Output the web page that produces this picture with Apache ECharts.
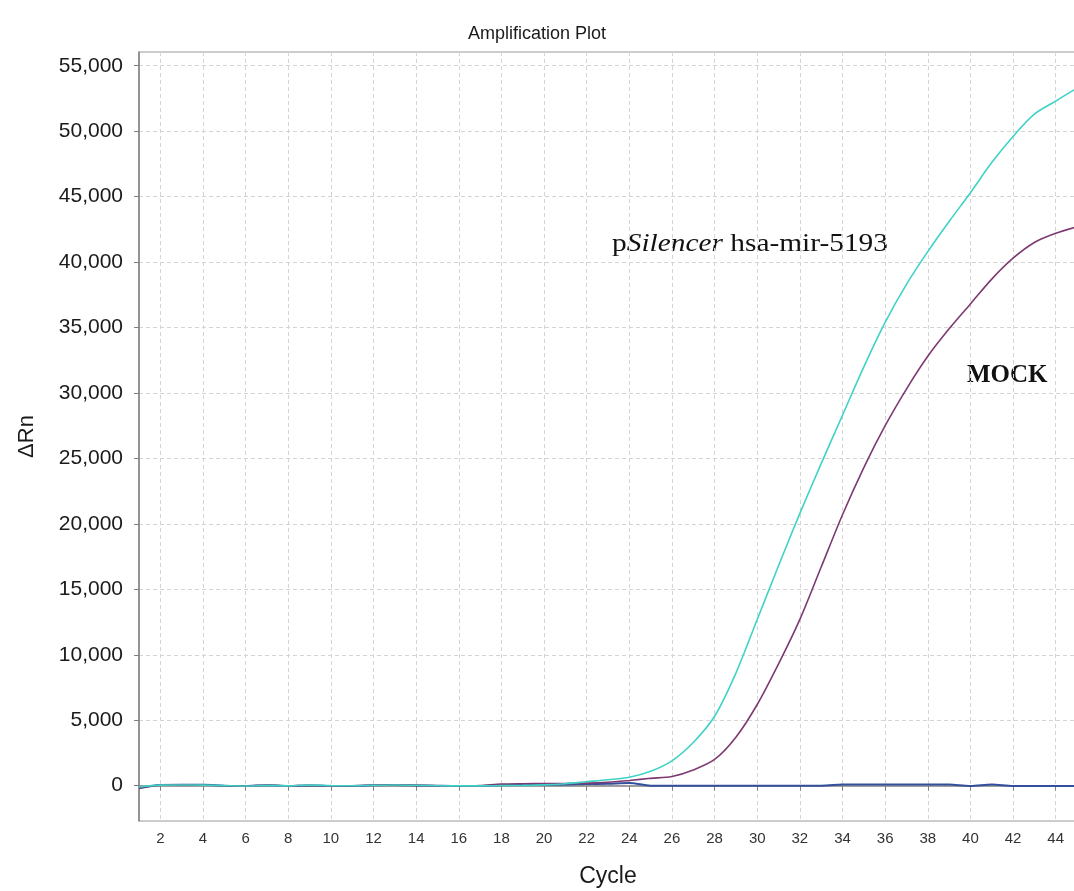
<!DOCTYPE html>
<html>
<head>
<meta charset="utf-8">
<title>Amplification Plot</title>
<script src="https://cdn.jsdelivr.net/npm/echarts@6.0.0/dist/echarts.min.js"></script>
<style>
  html, body { margin: 0; padding: 0; background: #fff; }
  #chart { width: 1074px; height: 891px; }
</style>
</head>
<body>
<div id="chart"></div>
<script>
// cycles 1..45
const cycles = []
for (let c = 1; c <= 45; c++) cycles.push(c)

// pSilencer hsa-mir-5193 (turquoise)
const silencer = [
  -100, 40, 50, 40, 0, -30, 20, -20, 40, 0,
  -10, 20, 50, 30, -10, -20, -20, 0, 20, 60,
  150, 300, 450, 640, 1100, 1900, 3300, 5300, 8600, 12700,
  16800, 20800, 24600, 28300, 32000, 35400, 38300, 40800, 43100, 45300,
  47600, 49600, 51300, 52300, 53300
]

// MOCK (purple)
const mock = [
  -150, 30, 60, 50, -10, -40, 50, -20, 20, -20,
  -10, 30, 60, 40, -10, -30, 0, 120, 150, 160,
  170, 190, 260, 400, 560, 700, 1200, 2000, 3700, 6200,
  9300, 12700, 16700, 20700, 24300, 27500, 30300, 32800, 34900, 36800,
  38700, 40300, 41500, 42200, 42700
]

// baseline / no amplification (blue)
const baseline = [
  -200, 50, 60, 60, 0, -30, 40, -30, 10, -20,
  -20, 30, 50, 20, -10, -30, -30, 30, 60, 60,
  80, 120, 150, 200, 0, 0, 0, 0, 0, 0,
  0, 0, 0, 80, 90, 90, 90, 90, 80, -20,
  90, -30, -20, -20, -20
]

const yTicks = [0, 5000, 10000, 15000, 20000, 25000, 30000, 35000, 40000, 45000, 50000, 55000]
const xTicks = [2, 4, 6, 8, 10, 12, 14, 16, 18, 20, 22, 24, 26, 28, 30, 32, 34, 36, 38, 40, 42, 44]

const toPairs = arr => arr.map((v, i) => [cycles[i], v])

const chart = echarts.init(document.getElementById('chart'))

const gridLine = {
  show: true,
  lineStyle: { color: '#d4d4d4', type: [4, 3], width: 1 }
}

const option = {
  animation: false,
  backgroundColor: '#ffffff',
  title: {
    text: 'Amplification Plot',
    left: 'center',
    top: 20,
    textStyle: {
      fontFamily: 'Liberation Sans',
      fontSize: 18,
      fontWeight: 'normal',
      color: '#1a1a1a'
    }
  },
  grid: {
    left: 139,
    top: 52,
    width: 938,
    height: 769,
    outerBoundsMode: 'none',
    show: true,
    borderColor: '#9a9a9a',
    borderWidth: 1
  },
  xAxis: {
    type: 'value',
    min: 1,
    max: 45,
    name: 'Cycle',
    nameLocation: 'middle',
    nameGap: 44,
    nameTextStyle: { fontFamily: 'Liberation Sans', fontSize: 23, color: '#1a1a1a' },
    axisLine: { show: true, lineStyle: { color: '#808080', width: 1.5 } },
    axisTick: { show: true, length: 5, customValues: xTicks, lineStyle: { color: '#808080' } },
    axisLabel: {
      customValues: xTicks,
      margin: 10,
      fontFamily: 'Liberation Sans',
      fontSize: 15,
      color: '#333'
    },
    splitLine: gridLine
  },
  yAxis: {
    type: 'value',
    min: -2700,
    max: 56050,
    name: 'ΔRn',
    nameLocation: 'middle',
    nameGap: 101,
    nameRotate: 90,
    nameTextStyle: { fontFamily: 'Liberation Sans', fontSize: 22, color: '#1a1a1a' },
    axisLine: { show: true, lineStyle: { color: '#808080', width: 1.5 } },
    axisTick: { show: true, length: 5, customValues: yTicks, lineStyle: { color: '#808080' } },
    axisLabel: {
      customValues: yTicks,
      margin: 16,
      fontFamily: 'Liberation Sans',
      fontSize: 21,
      color: '#1a1a1a',
      formatter: v => v.toLocaleString('en-US')
    },
    splitLine: gridLine
  },
  series: [
    {
      name: 'baseline',
      type: 'line',
      data: toPairs(baseline),
      showSymbol: false,
      smooth: 0.3,
      lineStyle: { color: '#34509c', width: 2 },
      z: 3
    },
    {
      name: 'MOCK',
      type: 'line',
      data: toPairs(mock),
      showSymbol: false,
      smooth: 0.3,
      lineStyle: { color: '#7d3a72', width: 1.6 },
      z: 4
    },
    {
      name: 'pSilencer hsa-mir-5193',
      type: 'line',
      data: toPairs(silencer),
      showSymbol: false,
      smooth: 0.3,
      lineStyle: { color: '#3fd3c6', width: 1.6 },
      z: 5
    }
  ],
  graphic: [
    {
      type: 'text',
      x: 612,
      y: 231,
      scaleX: 1.13,
      style: {
        text: '{n|p}{i|Silencer}{n| hsa-mir-5193}',
        rich: {
          n: { fontFamily: 'Liberation Serif', fontSize: 26, fill: '#111' },
          i: { fontFamily: 'Liberation Serif', fontSize: 26, fontStyle: 'italic', fill: '#111' }
        }
      }
    },
    {
      type: 'text',
      x: 967,
      y: 363,
      style: {
        text: 'MOCK',
        fontFamily: 'Liberation Serif',
        fontSize: 25,
        fontWeight: 'bold',
        fill: '#111'
      }
    }
  ]
}

chart.setOption(option)
</script>
</body>
</html>
